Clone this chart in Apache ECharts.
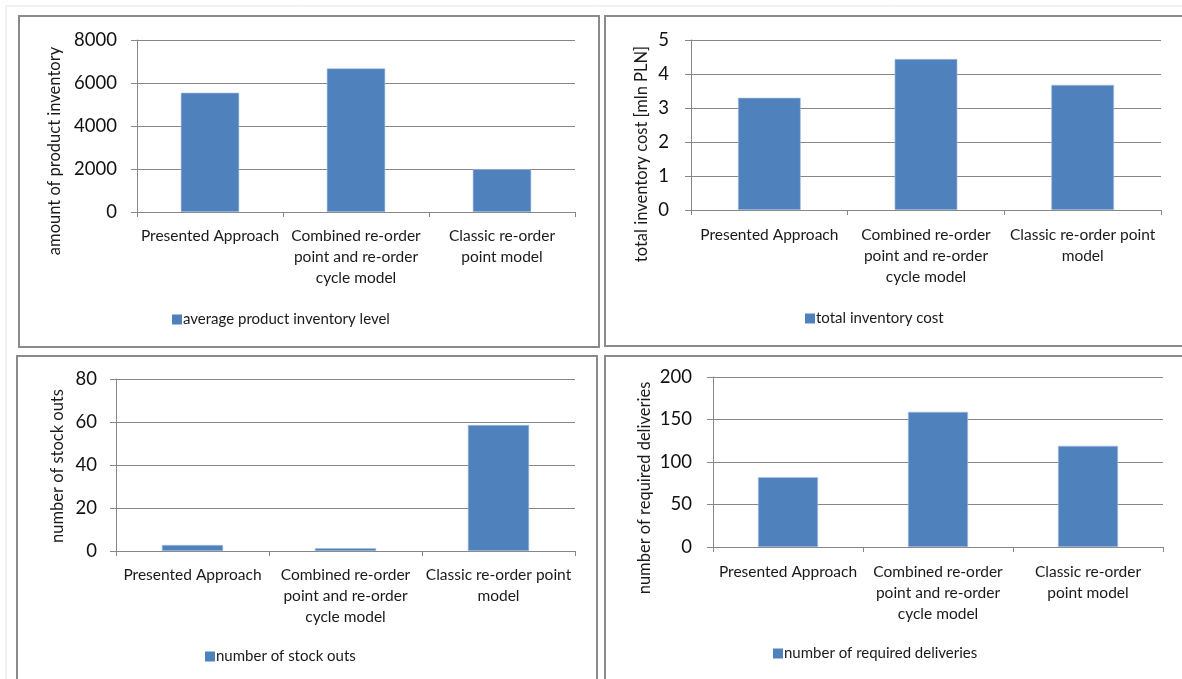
<!DOCTYPE html>
<html>
<head>
<meta charset="UTF-8">
<title>inventory comparison</title>
<script src="https://cdn.jsdelivr.net/npm/echarts@6/dist/echarts.min.js"></script>
<style>
body {
    margin: 0;
    padding: 0;
    background: #fff;
}
#main {
    width: 1182px;
    height: 679px;
}
</style>
</head>
<body>
<div id="main"></div>
<script>
// categories and how each panel wraps them
var categories = ['Presented Approach', 'Combined re-order point and re-order cycle model', 'Classic re-order point model'];
var labelsA = ['Presented Approach', 'Combined re-order\npoint and re-order\ncycle model', 'Classic re-order\npoint model'];
var labelsB = ['Presented Approach', 'Combined re-order\npoint and re-order\ncycle model', 'Classic re-order point\nmodel'];

// series values
var inventoryLevel = [5550, 6680, 1990];
var inventoryCost = [3.30, 4.44, 3.68];
var stockOuts = [2.8, 1.3, 58.6];
var deliveries = [82, 159, 119];

// y axis scales
var yMax = [8000, 5, 80, 200];
var yStep = [2000, 1, 20, 50];

var FONT = 'Lato';
var GRAY = '#878787';
var BLUE = '#4F81BD';

var panels = [
    {name: 'average product inventory level', title: 'amount of product inventory', data: inventoryLevel, labels: labelsA,
     grid: {left: 137, top: 40, width: 438, height: 172}, lm: 20, xm: 13, legend: {left: 167, top: 307}, tt: [55, 151]},
    {name: 'total inventory cost', title: 'total inventory cost [mln PLN]', data: inventoryCost, labels: labelsB,
     grid: {left: 691, top: 40, width: 470, height: 170}, lm: 22, xm: 14, legend: {left: 800, top: 306}, tt: [642, 154]},
    {name: 'number of stock outs', title: 'number of stock outs', data: stockOuts, labels: labelsB,
     grid: {left: 116, top: 379, width: 459, height: 172}, lm: 19, xm: 13, legend: {left: 200, top: 644}, tt: [58, 466]},
    {name: 'number of required deliveries', title: 'number of required deliveries', data: deliveries, labels: labelsA,
     grid: {left: 713, top: 377, width: 450, height: 170}, lm: 21, xm: 14, legend: {left: 768, top: 641}, tt: [645, 488]}
];

var grids = [], xAxes = [], yAxes = [], series = [], legends = [];
var graphics = [
    {type: 'rect', shape: {x: 6, y: 6, width: 1190, height: 690}, style: {fill: 'none', stroke: '#e3e3e3', lineWidth: 1}},
    {type: 'rect', shape: {x: 19, y: 16, width: 580, height: 331}, style: {fill: 'none', stroke: '#8a8a8a', lineWidth: 2}},
    {type: 'rect', shape: {x: 605, y: 16, width: 600, height: 330}, style: {fill: 'none', stroke: '#8a8a8a', lineWidth: 2}},
    {type: 'rect', shape: {x: 17, y: 356, width: 580, height: 340}, style: {fill: 'none', stroke: '#8a8a8a', lineWidth: 2}},
    {type: 'rect', shape: {x: 605, y: 356, width: 600, height: 340}, style: {fill: 'none', stroke: '#8a8a8a', lineWidth: 2}}
];

panels.forEach(function (p, i) {
    grids.push(p.grid);
    xAxes.push({
        type: 'category',
        gridIndex: i,
        data: categories,
        axisLine: {lineStyle: {color: GRAY, width: 1}},
        axisTick: {show: true, length: 5, lineStyle: {color: GRAY}},
        axisLabel: {
            margin: p.xm,
            color: '#1a1a1a',
            fontFamily: FONT,
            fontSize: 15.5,
            lineHeight: 21,
            interval: 0,
            formatter: function (v, idx) { return p.labels[idx]; }
        }
    });
    yAxes.push({
        type: 'value',
        gridIndex: i,
        min: 0,
        max: yMax[i],
        interval: yStep[i],
        axisLine: {show: true, lineStyle: {color: GRAY, width: 1}},
        axisTick: {show: true, length: 6, lineStyle: {color: GRAY}},
        splitLine: {lineStyle: {color: GRAY, width: 1}},
        axisLabel: {
            margin: p.lm,
            color: '#111',
            fontFamily: FONT,
            fontSize: 18.5,
            formatter: function (v) { return String(v); }
        }
    });
    series.push({
        type: 'bar',
        name: p.name,
        xAxisIndex: i,
        yAxisIndex: i,
        data: p.data,
        barCategoryGap: '60%',
        itemStyle: {color: BLUE, borderColor: '#a9c1e0', borderWidth: 0.6},
        emphasis: {disabled: true}
    });
    legends.push({
        data: [p.name],
        left: p.legend.left,
        top: p.legend.top,
        itemWidth: 10,
        itemHeight: 10,
        icon: 'rect',
        itemGap: 0,
        selectedMode: false,
        itemStyle: {borderWidth: 0},
        textStyle: {color: '#1a1a1a', fontFamily: FONT, fontSize: 15, padding: [0, 0, 0, -4]}
    });
    graphics.push({
        type: 'text',
        x: p.tt[0],
        y: p.tt[1],
        rotation: Math.PI / 2,
        style: {
            text: p.title,
            fill: '#1a1a1a',
            font: '16.5px ' + FONT,
            align: 'center',
            verticalAlign: 'middle'
        }
    });
});

var chart = echarts.init(document.getElementById('main'));
chart.setOption({
    animation: false,
    grid: grids,
    xAxis: xAxes,
    yAxis: yAxes,
    legend: legends,
    series: series,
    graphic: graphics
});
</script>
</body>
</html>
